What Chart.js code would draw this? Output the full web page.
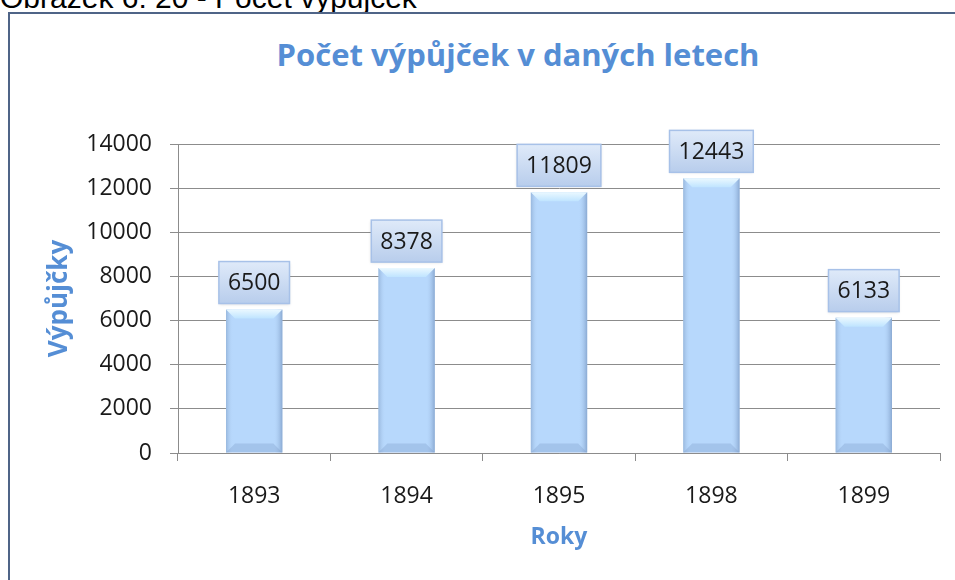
<!DOCTYPE html>
<html>
<head>
<meta charset="utf-8">
<script src="https://cdn.jsdelivr.net/npm/chart.js@4/dist/chart.umd.min.js"></script>
<style>
    html, body { margin: 0; padding: 0; background: #fff; }
    #wrap { position: relative; width: 955px; height: 580px; overflow: hidden; }
    #caption {
        position: absolute; left: 0; top: -17px;
        font-family: "Liberation Sans", Arial, sans-serif;
        font-size: 30px; line-height: 30px; color: #000; white-space: nowrap;
    }
    #frame {
        position: absolute; left: 8px; top: 12px; width: 1000px; height: 700px;
        border-left: 2px solid #4f6487; border-top: 2px solid #4f6487;
    }
    #chartTitle {
        position: absolute; left: 218px; width: 600px; top: 33px; text-align: center;
        font-family: "Open Sans", sans-serif; font-weight: bold;
        font-size: 31px; line-height: 42px; color: #558ed5; white-space: nowrap;
    }
    #loansChart { position: absolute; left: 0; top: 0; }
</style>
</head>
<body>
<div id="wrap">
    <div id="caption">Obrázek 6: 20 - Počet výpůjček</div>
    <div id="frame"></div>
    <div id="chartTitle">Počet výpůjček v daných letech</div>
    <canvas id="loansChart" width="955" height="580"></canvas>
</div>
<script>
// ============= Data =============
const years = ['1893', '1894', '1895', '1898', '1899'];
const loans = [6500, 8378, 11809, 12443, 6133];
const yTicks = [0, 2000, 4000, 6000, 8000, 10000, 12000, 14000];

const FONT = '"Open Sans", Lato, sans-serif';
const BLUE = '#558ed5';

// Bevelled bar look (drawn over the library's bar elements)
const bevelPlugin = {
    id: 'bevel',
    afterDatasetsDraw(chart) {
        const ctx = chart.ctx;
        chart.getDatasetMeta(0).data.forEach(bar => {
            const { x, y, base, width } = bar.getProps(['x', 'y', 'base', 'width'], true);
            const l = x - width / 2, r = x + width / 2, b = 9;
            ctx.save();
            // side shading
            const g = ctx.createLinearGradient(l, 0, r, 0);
            g.addColorStop(0, 'rgba(120,150,190,0.5)');
            g.addColorStop(0.12, 'rgba(180,210,245,0)');
            g.addColorStop(0.85, 'rgba(180,210,245,0)');
            g.addColorStop(1, 'rgba(100,130,175,0.55)');
            ctx.fillStyle = g;
            ctx.fillRect(l, y, width, base - y);
            // top bevel
            const gt = ctx.createLinearGradient(0, y, 0, y + b);
            gt.addColorStop(0, '#eaf8ff');
            gt.addColorStop(1, '#bfe4ff');
            ctx.fillStyle = gt;
            ctx.beginPath();
            ctx.moveTo(l, y); ctx.lineTo(r, y); ctx.lineTo(r - b, y + b); ctx.lineTo(l + b, y + b);
            ctx.closePath(); ctx.fill();
            // bottom bevel
            ctx.fillStyle = 'rgba(120,150,195,0.3)';
            ctx.beginPath();
            ctx.moveTo(l, base); ctx.lineTo(r, base); ctx.lineTo(r - b, base - b); ctx.lineTo(l + b, base - b);
            ctx.closePath(); ctx.fill();
            ctx.restore();
        });
    }
};

// Value boxes above bars
const valueBoxPlugin = {
    id: 'valueBox',
    afterDatasetsDraw(chart) {
        const ctx = chart.ctx;
        const values = chart.data.datasets[0].data;
        chart.getDatasetMeta(0).data.forEach((bar, i) => {
            const text = String(values[i]);
            ctx.save();
            ctx.font = '23px ' + FONT;
            const w = ctx.measureText(text).width + 18, h = 42;
            const bx = bar.x - w / 2, by = bar.y - 6 - h;
            const g = ctx.createLinearGradient(0, by, 0, by + h);
            g.addColorStop(0, '#dfeaf9');
            g.addColorStop(1, '#b8cdec');
            ctx.shadowColor = 'rgba(0,0,0,0.15)';
            ctx.shadowBlur = 3;
            ctx.shadowOffsetY = 1;
            ctx.fillStyle = g;
            ctx.fillRect(bx, by, w, h);
            ctx.shadowColor = 'transparent';
            ctx.strokeStyle = '#a7c1e8';
            ctx.lineWidth = 1.5;
            ctx.strokeRect(bx, by, w, h);
            ctx.fillStyle = '#1a1a1a';
            ctx.textAlign = 'center';
            ctx.textBaseline = 'middle';
            ctx.fillText(text, bar.x, by + h / 2 + 1);
            ctx.restore();
        });
    }
};

new Chart(document.getElementById('loansChart'), {
    type: 'bar',
    data: {
        labels: years,
        datasets: [{
            data: loans,
            backgroundColor: '#b7d8fc',
            borderWidth: 0,
            categoryPercentage: 1,
            barPercentage: 0.37
        }]
    },
    options: {
        responsive: false,
        animation: false,
        devicePixelRatio: 1,
        layout: { padding: { left: 10, right: 15, top: 144, bottom: 10 } },
        plugins: {
            legend: { display: false },
            tooltip: { enabled: false },
            title: { display: false }
        },
        scales: {
            y: {
                min: 0, max: 14000,
                afterBuildTicks: axis => { axis.ticks = yTicks.map(v => ({ value: v })); },
                afterFit: axis => { axis.width = 168; },
                grid: { color: '#8c8c8c', tickLength: 8 },
                border: { color: '#8c8c8c' },
                ticks: {
                    color: '#1a1a1a', padding: 18, font: { family: FONT, size: 23 },
                    callback: v => String(v)
                },
                title: {
                    display: true, text: 'Výpůjčky', color: BLUE,
                    font: { family: FONT, size: 26, weight: 'bold' },
                    padding: { top: 34 }
                }
            },
            x: {
                afterFit: axis => { axis.height = 117; },
                grid: { display: true, drawOnChartArea: false, color: '#8c8c8c', tickLength: 8 },
                border: { color: '#8c8c8c' },
                ticks: { color: '#1a1a1a', padding: 22, font: { family: FONT, size: 23 } },
                title: {
                    display: true, text: 'Roky', color: BLUE,
                    font: { family: FONT, size: 23, weight: 'bold' },
                    padding: { bottom: 19 }
                }
            }
        }
    },
    plugins: [bevelPlugin, valueBoxPlugin]
});
</script>
</body>
</html>
